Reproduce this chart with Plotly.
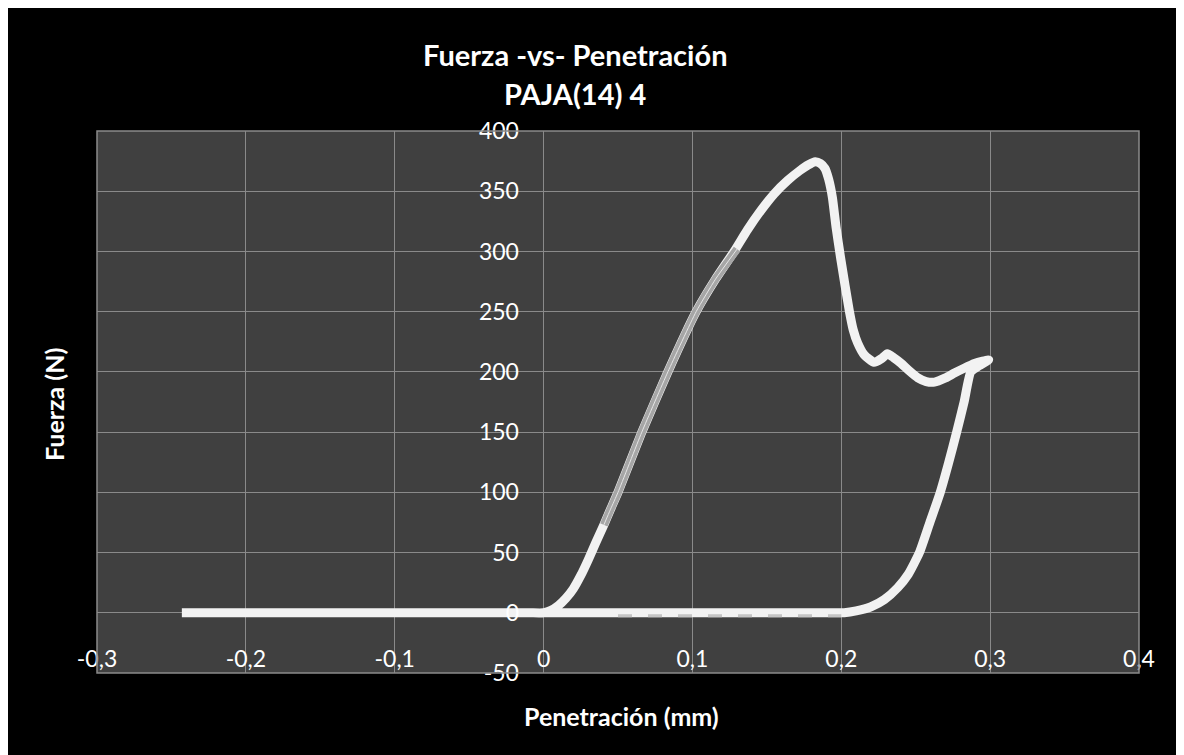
import plotly.graph_objects as go

# Main force-penetration curve (mm, N)
pen_mm = [-0.243, -0.10, -0.01, 0.0, 0.005, 0.010, 0.015, 0.020, 0.025, 0.030,
          0.035, 0.0405, 0.045, 0.050, 0.066, 0.0835, 0.1025, 0.1155, 0.128,
          0.137, 0.146, 0.155, 0.164, 0.172, 0.178, 0.1825, 0.186, 0.189,
          0.1915, 0.194, 0.1965, 0.1995, 0.2025, 0.2055, 0.208, 0.211, 0.2155,
          0.222, 0.227, 0.231, 0.235, 0.2403, 0.2455, 0.2515, 0.257, 0.2626,
          0.270, 0.276, 0.2825, 0.2895, 0.295, 0.299,
          0.2925, 0.287, 0.2825, 0.2775, 0.272, 0.2665, 0.2595, 0.2525,
          0.245, 0.238, 0.229, 0.220, 0.210, 0.202, 0.192, 0.100, 0.0]
fuerza_n = [0, 0, 0, 0, 2, 6, 12, 20, 31, 44,
            58, 73, 86, 100, 150, 200, 250, 277, 300,
            318, 334, 348, 359, 367, 372, 374.5, 373, 369,
            360, 345, 320, 295, 272, 250, 235, 224, 214,
            208, 211, 215, 212, 207, 201, 195, 192, 191.5,
            195, 199, 203, 207, 209, 210,
            205, 200, 175, 150, 124, 100, 75, 50,
            32, 21, 11, 5, 1.5, 0, 0, 0, 0]

# Grey overlay segment on the loading branch
seg_mm = [0.0405, 0.045, 0.050, 0.066, 0.0835, 0.1025, 0.1155, 0.130]
seg_n = [73, 86, 100, 150, 200, 250, 277, 302]

# Grey dashed trace along the zero line
base_mm = [0.05, 0.20]
base_n = [-2.5, -2.5]

x_ticks = [-0.3, -0.2, -0.1, 0, 0.1, 0.2, 0.3, 0.4]
x_labels = ["-0,3", "-0,2", "-0,1", "0", "0,1", "0,2", "0,3", "0,4"]
y_ticks = [-50, 0, 50, 100, 150, 200, 250, 300, 350, 400]
y_labels = ["-50", "0", "50", "100", "150", "200", "250", "300", "350", "400"]

FONT = "Lato"
W, H = 1184, 755
OFF = 8                      # page body margin
SX0, SX1, SY0, SY1 = 97, 1139, 131, 673   # plot box on screen
L, T = SX0 - OFF, SY0 - OFF
R, B = W - (SX1 - OFF), H - (SY1 - OFF)


def px(xs):
    return (xs - SX0) / (SX1 - SX0)


def py(ys):
    return (SY1 - ys) / (SY1 - SY0)


fig = go.Figure()
fig.add_trace(go.Scatter(x=pen_mm, y=fuerza_n, mode="lines",
                         line=dict(color="#f2f2f2", width=9, shape="spline", smoothing=0.5),
                         showlegend=False))
fig.add_trace(go.Scatter(x=base_mm, y=base_n, mode="lines",
                         line=dict(color="#c4c4c4", width=3, dash="14px,16px"),
                         hoverinfo="skip", showlegend=False))
fig.add_trace(go.Scatter(x=seg_mm, y=seg_n, mode="lines",
                         line=dict(color="#a6a6a6", width=8, shape="spline", smoothing=0.5),
                         hoverinfo="skip", showlegend=False))
fig.add_trace(go.Scatter(x=seg_mm, y=seg_n, mode="lines",
                         line=dict(color="#e6e6e6", width=1, shape="spline", smoothing=0.5),
                         hoverinfo="skip", showlegend=False))

grid = "#8a8a8a"
fig.update_layout(
    width=W, height=H,
    margin=dict(l=L, r=R, t=T, b=B, pad=0),
    paper_bgcolor="black",
    plot_bgcolor="#404040",
    font=dict(family=FONT, color="white", size=23),
    xaxis=dict(range=[-0.3, 0.4], tickvals=x_ticks, ticktext=x_labels,
               showgrid=True, gridcolor=grid, gridwidth=1, zeroline=False,
               showline=False, anchor="free", position=50 / 450,
               ticks="outside", ticklen=26, tickcolor="rgba(0,0,0,0)",
               tickfont=dict(family=FONT, size=23, color="white")),
    yaxis=dict(range=[-50, 400], tickvals=y_ticks, ticktext=y_labels,
               showgrid=True, gridcolor=grid, gridwidth=1, zeroline=False,
               showline=False, anchor="free", position=0.3 / 0.7,
               ticks="outside", ticklen=20, tickcolor="rgba(0,0,0,0)",
               tickfont=dict(family=FONT, size=23, color="white")),
    shapes=[
        dict(type="rect", xref="paper", yref="paper",
             x0=0, x1=1, y0=0, y1=1,
             line=dict(color=grid, width=1.5), layer="above"),
    ],
    annotations=[
        dict(text="<b>Fuerza -vs- Penetración</b>", xref="paper", yref="paper",
             x=px(575), y=py(55), showarrow=False, xanchor="center", yanchor="middle",
             font=dict(family=FONT, size=29, color="white")),
        dict(text="<b>PAJA(14) 4</b>", xref="paper", yref="paper",
             x=px(575), y=py(94), showarrow=False, xanchor="center", yanchor="middle",
             font=dict(family=FONT, size=29, color="white")),
        dict(text="<b>Fuerza (N)</b>", xref="paper", yref="paper",
             x=px(54), y=py(405), showarrow=False, textangle=-90,
             xanchor="center", yanchor="middle",
             font=dict(family=FONT, size=25, color="white")),
        dict(text="<b>Penetración (mm)</b>", xref="paper", yref="paper",
             x=px(621), y=py(716), showarrow=False,
             xanchor="center", yanchor="middle",
             font=dict(family=FONT, size=25, color="white")),
    ],
)

fig.write_html("out.html")
